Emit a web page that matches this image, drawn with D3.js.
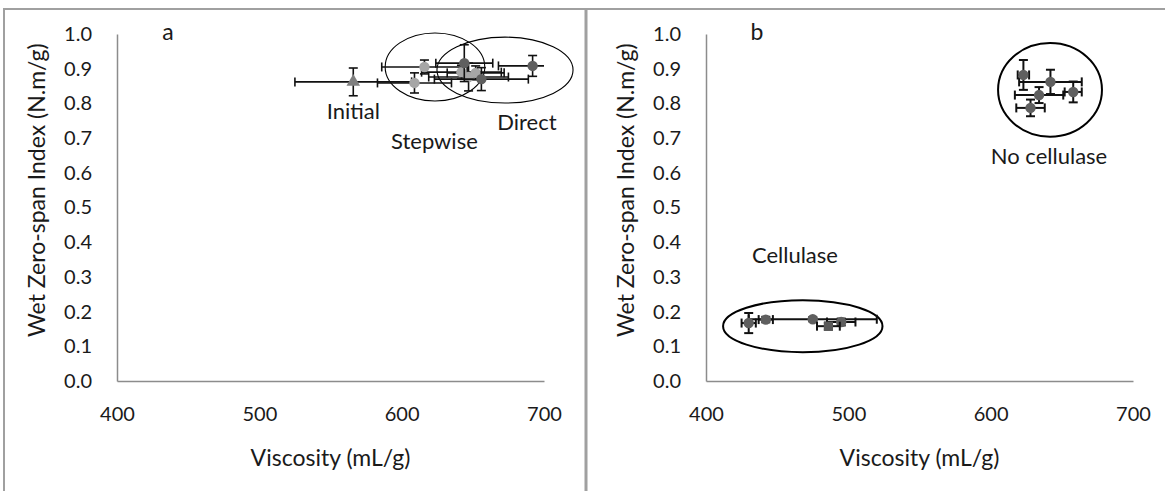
<!DOCTYPE html>
<html>
<head>
<meta charset="utf-8">
<script src="https://cdn.jsdelivr.net/npm/d3@7"></script>
<style>
  html, body { margin: 0; padding: 0; background: #fff; }
  svg { display: block; font-family: Lato, "Open Sans", sans-serif; }
</style>
</head>
<body>
<svg id="chart" width="1165" height="491"></svg>
<script>
// Axis ticks
const xTicks = [400, 500, 600, 700];
const yTicks = [0, 0.1, 0.2, 0.3, 0.4, 0.5, 0.6, 0.7, 0.8, 0.9, 1.0];

// Panel a: [viscosity, wet zero-span, viscosity error, zero-span error]
const initialPts  = [[566, 0.862, 41, 0.040]];
const stepwisePts = [
  [609, 0.859, 26, 0.029],
  [616, 0.905, 30, 0.020],
  [642, 0.890, 28, 0.020],
  [647, 0.876, 28, 0.040],
  [652, 0.888, 20, 0.020]
];
const directPts = [
  [644, 0.916, 20, 0.053],
  [656, 0.870, 33, 0.033],
  [692, 0.908, 24, 0.030]
];

// Panel b
const noCellulasePts = [
  [623, 0.882, 4, 0.043],
  [642, 0.862, 22, 0.035],
  [634, 0.824, 17, 0.023],
  [658, 0.833, 6, 0.030],
  [628, 0.787, 10, 0.024]
];
const cellulasePts = [
  [430, 0.167, 5, 0.029],
  [442, 0.177, 5, 0.008],
  [475, 0.178, 45, 0.006],
  [495, 0.170, 10, 0.010]
];
const cellulaseSquare = [[486, 0.158, 8, 0.010]];

// Group outlines: [centre viscosity, centre zero-span, half-width, half-height] in data units
const ellipsesA = [[623.4, 0.905, 35, 0.098], [672.6, 0.896, 47.8, 0.095]];
const ellipsesB = [[641.7, 0.839, 36.5, 0.135], [468, 0.158, 56, 0.075]];

const svg = d3.select("#chart");

// Frame and divider
svg.append("rect").attr("x", 4).attr("y", 9).attr("width", 1170).attr("height", 500)
  .attr("fill", "none").attr("stroke", "#a0a0a0").attr("stroke-width", 2);
svg.append("line").attr("x1", 586).attr("x2", 586).attr("y1", 9).attr("y2", 491)
  .attr("stroke", "#a0a0a0").attr("stroke-width", 3);

const TICK_FS = 20, TITLE_FS = 23, NOTE_FS = 22;
const INK = "#1a1a1a";

function panel(opts) {
  const x = d3.scaleLinear().domain([400, 700]).range([opts.x0, opts.x0 + 427]);
  const y = d3.scaleLinear().domain([0, 1]).range([381, 34]);
  const g = svg.append("g");

  const clipId = "clip-" + opts.name;
  svg.append("clipPath").attr("id", clipId).append("rect")
    .attr("x", x(400)).attr("y", y(1)).attr("width", x(700) - x(400)).attr("height", y(0) - y(1));

  const yAxis = g.append("g").attr("transform", `translate(${x(400)},0)`)
    .call(d3.axisLeft(y).tickValues(yTicks).tickSize(0).tickPadding(25).tickFormat(d3.format(".1f")));
  const xAxis = g.append("g").attr("transform", `translate(0,${y(0)})`)
    .call(d3.axisBottom(x).tickValues(xTicks).tickSize(0).tickPadding(26).tickFormat(d3.format("d")));
  [xAxis, yAxis].forEach(a => {
    a.select(".domain").attr("stroke", "#8c8c8c").attr("stroke-width", 1.5);
    a.selectAll("text").attr("font-size", TICK_FS).attr("fill", INK).attr("font-family", "Lato, sans-serif");
  });

  g.append("text").attr("x", (x(400) + x(700)) / 2).attr("y", y(0) + 79)
    .attr("text-anchor", "middle").attr("dominant-baseline", "middle")
    .attr("font-size", TITLE_FS).attr("fill", INK).text("Viscosity (mL/g)");
  g.append("text").attr("transform", `translate(${opts.x0 - 78},${y(0.55)}) rotate(-90)`)
    .attr("text-anchor", "middle").attr("dominant-baseline", "middle")
    .attr("font-size", TITLE_FS).attr("fill", INK).text("Wet Zero-span Index (N.m/g)");
  g.append("text").attr("x", opts.x0 + 51).attr("y", y(1))
    .attr("text-anchor", "middle").attr("dominant-baseline", "middle")
    .attr("font-size", NOTE_FS + 1).attr("fill", INK).text(opts.letter);

  // group outlines (drawn freely, not clipped to the plot area)
  g.append("g").selectAll("ellipse").data(opts.ellipses).join("ellipse")
    .attr("cx", d => x(d[0])).attr("cy", d => y(d[1]))
    .attr("rx", d => x(d[0] + d[2]) - x(d[0])).attr("ry", d => y(d[1] - d[3]) - y(d[1]))
    .attr("fill", "none").attr("stroke", "#000").attr("stroke-width", opts.ellipseW);

  const plot = g.append("g").attr("clip-path", `url(#${clipId})`);

  // error bars and markers
  opts.series.forEach(s => {
    const eb = plot.append("g").attr("stroke", "#111").attr("stroke-width", opts.barW).attr("fill", "none");
    const cap = 4.5;
    s.data.forEach(d => {
      const cx = x(d[0]), cy = y(d[1]);
      const xl = x(d[0] - d[2]), xr = x(d[0] + d[2]);
      const yt = y(d[1] + d[3]), yb = y(d[1] - d[3]);
      eb.append("line").attr("x1", xl).attr("x2", xr).attr("y1", cy).attr("y2", cy);
      eb.append("line").attr("x1", xl).attr("x2", xl).attr("y1", cy - cap).attr("y2", cy + cap);
      eb.append("line").attr("x1", xr).attr("x2", xr).attr("y1", cy - cap).attr("y2", cy + cap);
      eb.append("line").attr("x1", cx).attr("x2", cx).attr("y1", yt).attr("y2", yb);
      eb.append("line").attr("x1", cx - cap).attr("x2", cx + cap).attr("y1", yt).attr("y2", yt);
      eb.append("line").attr("x1", cx - cap).attr("x2", cx + cap).attr("y1", yb).attr("y2", yb);
    });
    const sym = d3.symbol().type(s.shape).size(s.size);
    plot.append("g").selectAll("path").data(s.data).join("path")
      .attr("transform", d => `translate(${x(d[0])},${y(d[1])})`)
      .attr("d", sym).attr("fill", s.color);
  });

  opts.labels.forEach(l => {
    g.append("text").attr("x", x(l.v)).attr("y", y(l.w))
      .attr("text-anchor", "middle").attr("dominant-baseline", "middle")
      .attr("font-size", NOTE_FS).attr("fill", INK).text(l.text);
  });
}

panel({
  name: "a", letter: "a", x0: 117, ellipseW: 1.1, barW: 1.6,
  ellipses: ellipsesA,
  series: [
    { data: initialPts, shape: d3.symbolTriangle, size: 80, color: "#7f7f7f" },
    { data: stepwisePts, shape: d3.symbolCircle, size: 85, color: "#a6a6a6" },
    { data: directPts, shape: d3.symbolCircle, size: 85, color: "#5f5f5f" }
  ],
  labels: [
    { text: "Initial", v: 566, w: 0.772 },
    { text: "Stepwise", v: 623, w: 0.686 },
    { text: "Direct", v: 688, w: 0.738 }
  ]
});

panel({
  name: "b", letter: "b", x0: 706, ellipseW: 2, barW: 2,
  ellipses: ellipsesB,
  series: [
    { data: noCellulasePts, shape: d3.symbolCircle, size: 85, color: "#5f5f5f" },
    { data: cellulasePts, shape: d3.symbolCircle, size: 85, color: "#5f5f5f" },
    { data: cellulaseSquare, shape: d3.symbolSquare, size: 85, color: "#595959" }
  ],
  labels: [
    { text: "No cellulase", v: 641, w: 0.640 },
    { text: "Cellulase", v: 462.5, w: 0.357 }
  ]
});
</script>
</body>
</html>
